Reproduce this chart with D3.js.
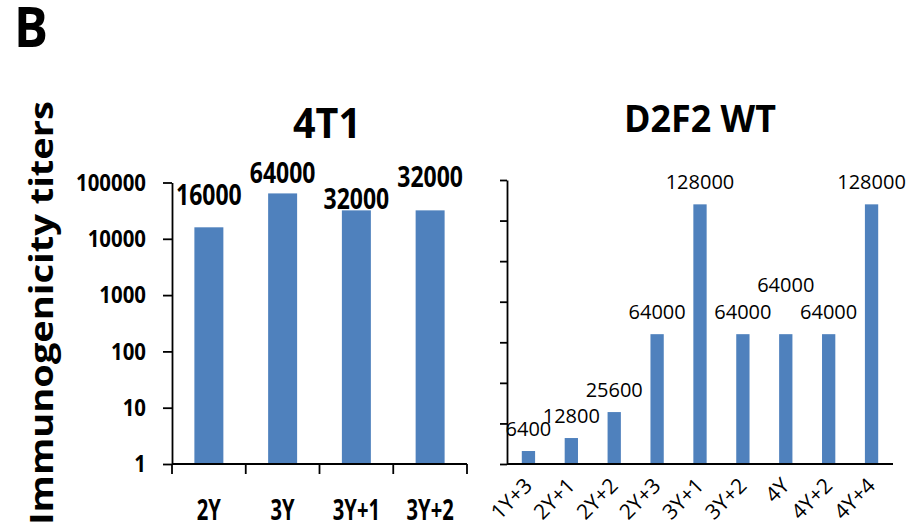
<!DOCTYPE html>
<html>
<head>
<meta charset="utf-8">
<script src="https://cdn.jsdelivr.net/npm/d3@7"></script>
<style>
  html, body { margin: 0; padding: 0; background: #fff; }
  svg { display: block; }
  text { font-family: "Open Sans", "Liberation Sans", Arial, sans-serif; fill: #000; }
</style>
</head>
<body>
<svg id="chart" width="911" height="529"></svg>
<script>
// Immunogenicity titers per immunisation group
const leftCategories = ["2Y", "3Y", "3Y+1", "3Y+2"];
const leftTiters = [16000, 64000, 32000, 32000];
const leftTickValues = [1, 10, 100, 1000, 10000, 100000];

const rightCategories = ["1Y+3", "2Y+1", "2Y+2", "2Y+3", "3Y+1", "3Y+2", "4Y", "4Y+2", "4Y+4"];
const rightTiters = [6400, 12800, 25600, 64000, 128000, 64000, 64000, 64000, 128000];
const rightTickValues = [0, 20000, 40000, 60000, 80000, 100000, 120000, 140000];

const panelTitles = ["4T1", "D2F2 WT"];
const axisTitle = "Immunogenicity titers";
const panelLetter = "B";

// layout
const BAR = "#4f81bd";
const AXIS_W = 1.8;
const L = { x0: 172, x1: 467, yBottom: 464, yTop: 182.5 };
const R = { x0: 507, x1: 893, yBottom: 464, yTop: 180 };
// distance from bar top to value-label baseline (labels nudged to avoid overlaps)
const leftLabelGap = [22, 10, 1, 23.5];
const rightLabelGap = [15, 15, 15, 15, 15, 15, 42, 15, 15];

const svg = d3.select("#chart");

// squeeze/stretch a text element horizontally by factor sx
function fit(sel, sx) {
  sel.each(function () {
    const w = this.getComputedTextLength();
    d3.select(this).attr("textLength", w * sx).attr("lengthAdjust", "spacingAndGlyphs");
  });
}
function fitTo(sel, width) {
  sel.attr("textLength", width).attr("lengthAdjust", "spacingAndGlyphs");
}

// panel letter
svg.append("text").attr("x", 14).attr("y", 47)
  .attr("font-size", 55).attr("font-weight", 700).text(panelLetter)
  .call(fit, 0.92);

// y-axis title
svg.append("text")
  .attr("transform", "translate(53,313) rotate(-90)")
  .attr("text-anchor", "middle")
  .attr("font-size", 33).attr("font-weight", 700)
  .text(axisTitle)
  .call(fitTo, 424);

// ---------- left panel: 4T1 (log scale) ----------
const xL = d3.scaleBand().domain(leftCategories).range([L.x0, L.x1])
  .paddingInner(0.607).paddingOuter(0.3035);
const yL = d3.scaleLog().domain([1, 100000]).range([L.yBottom, L.yTop]);

const gL = svg.append("g");
gL.selectAll("rect").data(leftTiters).join("rect")
  .attr("x", (d, i) => xL(leftCategories[i]))
  .attr("width", xL.bandwidth())
  .attr("y", d => yL(d))
  .attr("height", d => yL(1) - yL(d))
  .attr("fill", BAR);

const axL = gL.append("g").attr("transform", `translate(${L.x0},0)`)
  .call(d3.axisLeft(yL).tickValues(leftTickValues).tickFormat(d => String(d))
    .tickSize(9).tickSizeOuter(0).tickPadding(17));
axL.selectAll("path, line").attr("stroke", "#000").attr("stroke-width", AXIS_W);
axL.selectAll("text").attr("font-size", 24).attr("font-weight", 700)
  .attr("font-family", "\"Open Sans\", \"Liberation Sans\", Arial, sans-serif")
  .attr("fill", "#000").call(fit, 0.85);

// category baseline with boundary ticks
gL.append("line").attr("x1", L.x0).attr("x2", L.x1)
  .attr("y1", L.yBottom).attr("y2", L.yBottom)
  .attr("stroke", "#000").attr("stroke-width", AXIS_W);
gL.selectAll("line.bound").data(d3.range(leftCategories.length + 1)).join("line")
  .attr("class", "bound")
  .attr("x1", i => L.x0 + i * xL.step()).attr("x2", i => L.x0 + i * xL.step())
  .attr("y1", L.yBottom).attr("y2", L.yBottom + 10)
  .attr("stroke", "#000").attr("stroke-width", AXIS_W);

gL.selectAll("text.cat").data(leftCategories).join("text")
  .attr("class", "cat")
  .attr("x", d => xL(d) + xL.bandwidth() / 2).attr("y", 520)
  .attr("text-anchor", "middle").attr("font-size", 28).attr("font-weight", 700)
  .text(d => d).call(fit, 0.72);

gL.selectAll("text.val").data(leftTiters).join("text")
  .attr("class", "val")
  .attr("x", (d, i) => xL(leftCategories[i]) + xL.bandwidth() / 2)
  .attr("y", (d, i) => yL(d) - leftLabelGap[i])
  .attr("text-anchor", "middle").attr("font-size", 28).attr("font-weight", 700)
  .text(d => d).call(fit, 0.82);

svg.append("text").attr("x", 327).attr("y", 138).attr("text-anchor", "middle")
  .attr("font-size", 41).attr("font-weight", 700).text(panelTitles[0])
  .call(fitTo, 68);

// ---------- right panel: D2F2 WT (linear scale) ----------
const xR = d3.scaleBand().domain(rightCategories).range([R.x0, R.x1])
  .paddingInner(0.69).paddingOuter(0.345);
const yR = d3.scaleLinear().domain([0, 140000]).range([R.yBottom, R.yTop]);

const gR = svg.append("g");
gR.selectAll("rect").data(rightTiters).join("rect")
  .attr("x", (d, i) => xR(rightCategories[i]))
  .attr("width", xR.bandwidth())
  .attr("y", d => yR(d))
  .attr("height", d => yR(0) - yR(d))
  .attr("fill", BAR);

const axR = gR.append("g").attr("transform", `translate(${R.x0},0)`)
  .call(d3.axisLeft(yR).tickValues(rightTickValues).tickFormat("")
    .tickSize(7).tickSizeOuter(0));
axR.selectAll("path, line").attr("stroke", "#000").attr("stroke-width", AXIS_W);

gR.append("line").attr("x1", R.x0).attr("x2", R.x1)
  .attr("y1", R.yBottom).attr("y2", R.yBottom)
  .attr("stroke", "#000").attr("stroke-width", AXIS_W);

gR.selectAll("text.cat").data(rightCategories).join("text")
  .attr("class", "cat")
  .attr("transform", d => `translate(${xR(d) + xR.bandwidth() / 2 + 5},487) rotate(-45)`)
  .attr("text-anchor", "end").attr("font-size", 21)
  .text(d => d);

gR.selectAll("text.val").data(rightTiters).join("text")
  .attr("class", "val")
  .attr("x", (d, i) => xR(rightCategories[i]) + xR.bandwidth() / 2)
  .attr("y", (d, i) => yR(d) - rightLabelGap[i])
  .attr("text-anchor", "middle").attr("font-size", 20)
  .text(d => d);

svg.append("text").attr("x", 700).attr("y", 131.7).attr("text-anchor", "middle")
  .attr("font-size", 37).attr("font-weight", 700).text(panelTitles[1])
  .call(fitTo, 152);
</script>
</body>
</html>
